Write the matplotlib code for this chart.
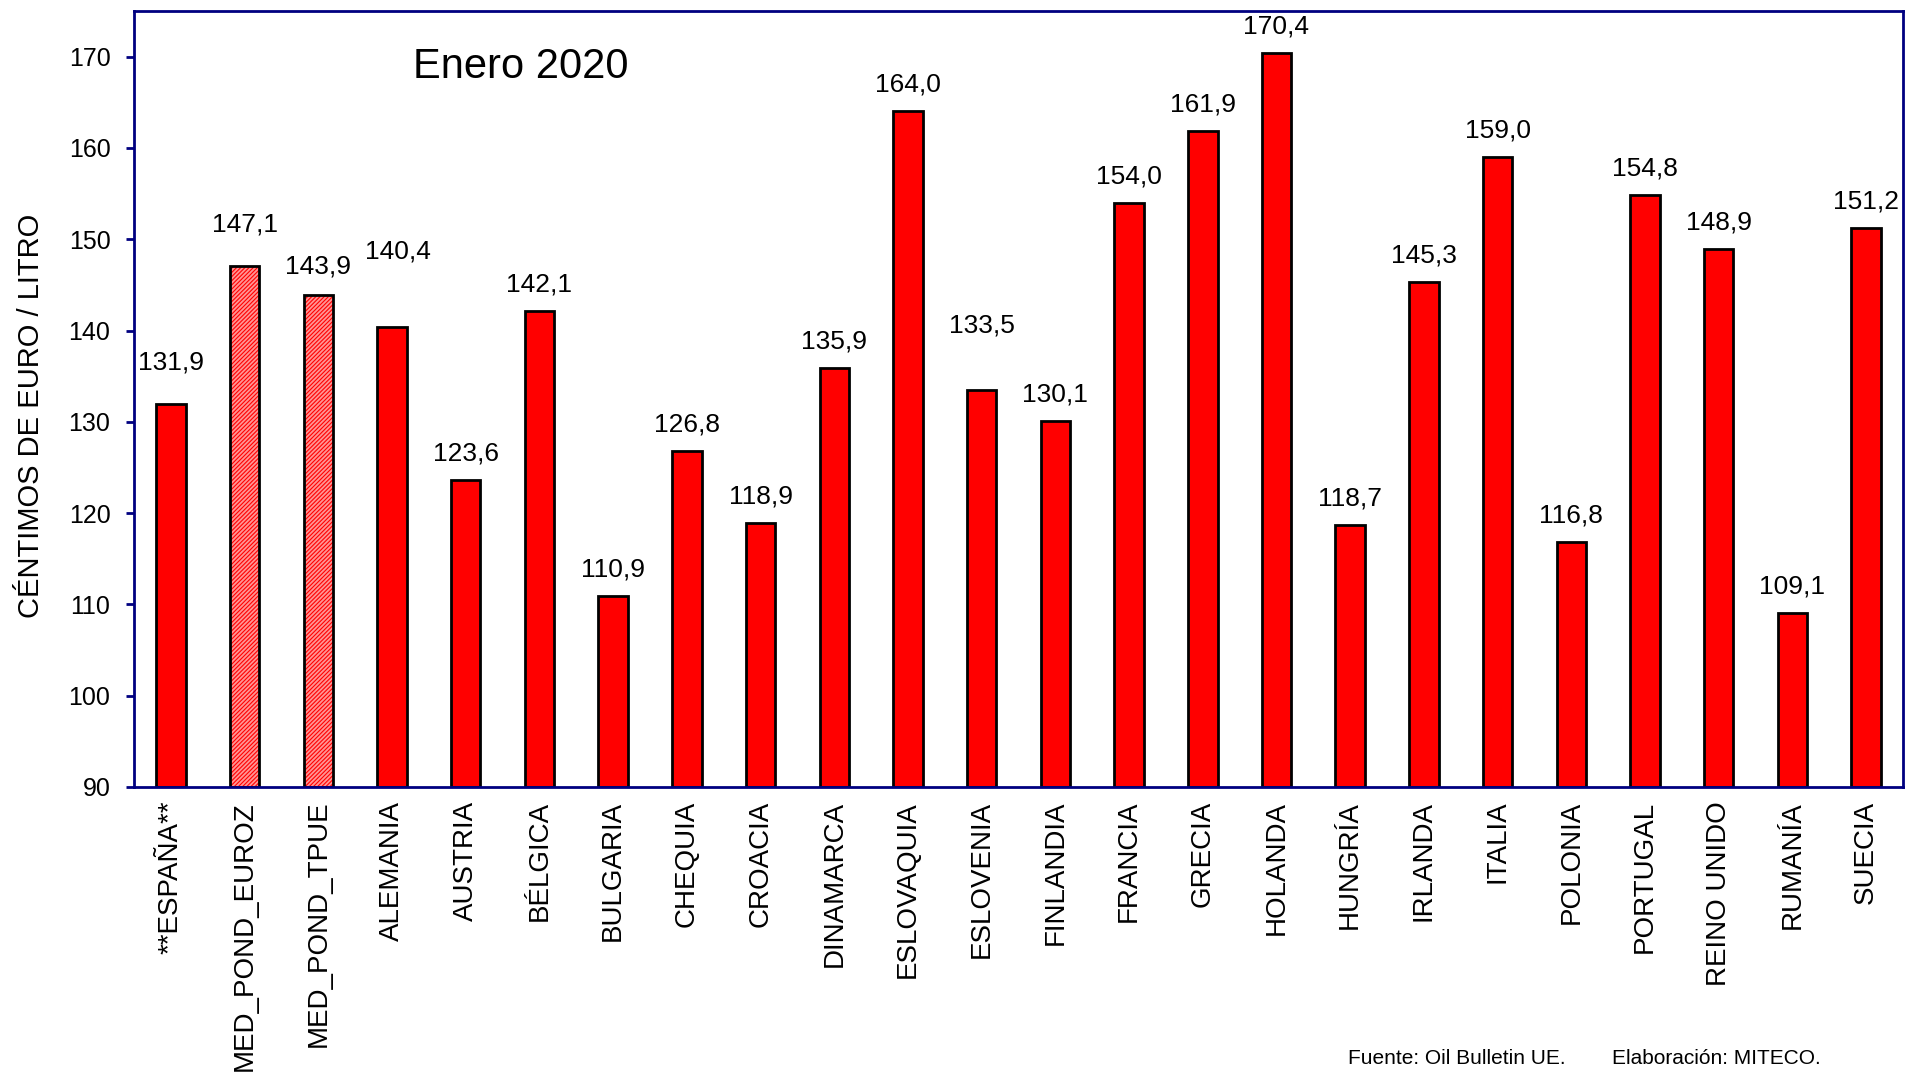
import matplotlib
matplotlib.use("Agg")
import matplotlib.pyplot as plt

plt.rcParams['font.family'] = ['Liberation Sans', 'DejaVu Sans']
plt.rcParams['hatch.linewidth'] = 0.8

# Data (céntimos de euro / litro, enero 2020)
countries = ['**ESPAÑA**', 'MED_POND_EUROZ', 'MED_POND_TPUE', 'ALEMANIA',
             'AUSTRIA', 'BÉLGICA', 'BULGARIA', 'CHEQUIA', 'CROACIA',
             'DINAMARCA', 'ESLOVAQUIA', 'ESLOVENIA', 'FINLANDIA', 'FRANCIA',
             'GRECIA', 'HOLANDA', 'HUNGRÍA', 'IRLANDA', 'ITALIA', 'POLONIA',
             'PORTUGAL', 'REINO UNIDO', 'RUMANÍA', 'SUECIA']
prices = [131.9, 147.1, 143.9, 140.4, 123.6, 142.1, 110.9, 126.8, 118.9,
          135.9, 164.0, 133.5, 130.1, 154.0, 161.9, 170.4, 118.7, 145.3,
          159.0, 116.8, 154.8, 148.9, 109.1, 151.2]
averages = ['MED_POND_EUROZ', 'MED_POND_TPUE']

# label placement (data units above the bar top), a few are shifted by hand
label_lift = {'**ESPAÑA**': 4.6, 'MED_POND_EUROZ': 4.5, 'MED_POND_TPUE': 3.1,
              'ALEMANIA': 8.2, 'ESLOVENIA': 7.0}
NAVY = '#000080'

fig = plt.figure(figsize=(19.07, 10.77), dpi=100)
ax = fig.add_axes([0.0703, 0.2693, 0.9276, 0.7205])

x = range(len(countries))
for i, (name, val) in enumerate(zip(countries, prices)):
    if name in averages:
        ax.bar(i, val - 90, bottom=90, width=0.4, color='#ff9494',
               edgecolor='#ff0000', hatch='/' * 8, linewidth=0)
        ax.bar(i, val - 90, bottom=90, width=0.4, fill=False,
               edgecolor='black', linewidth=2)
    else:
        ax.bar(i, val - 90, bottom=90, width=0.4, color='red',
               edgecolor='black', linewidth=2)
    dx = 0.08 if name == 'ALEMANIA' else 0
    ax.text(i + dx, val + label_lift.get(name, 2.9), f'{val:.1f}'.replace('.', ','),
            ha='center', va='center', fontsize=19)

ax.set_xlim(-0.5, len(countries) - 0.5)
ax.set_ylim(90, 175)
ax.set_yticks(range(90, 171, 10))
ax.set_xticks(list(x))
ax.set_xticklabels(countries, rotation=90, fontsize=20, va='top', ha='center')
ax.tick_params(axis='x', length=0, pad=10)
ax.tick_params(axis='y', length=6, width=2, color=NAVY, labelsize=18, pad=11)
for s in ax.spines.values():
    s.set_color(NAVY)
    s.set_linewidth(2)

fig.text(31 / 1907, 1 - 416 / 1077, 'CÉNTIMOS DE EURO / LITRO', rotation=90,
         ha='center', va='center', fontsize=21)
fig.text(413 / 1907, 1 - 67 / 1077, 'Enero 2020', ha='left', va='center',
         fontsize=30)
fig.text(1348 / 1907, 1 - 1058 / 1077, 'Fuente: Oil Bulletin UE.', ha='left',
         va='center', fontsize=15)
fig.text(1612 / 1907, 1 - 1058 / 1077, 'Elaboración: MITECO.', ha='left',
         va='center', fontsize=15)

fig.savefig('out.png', dpi=100)
